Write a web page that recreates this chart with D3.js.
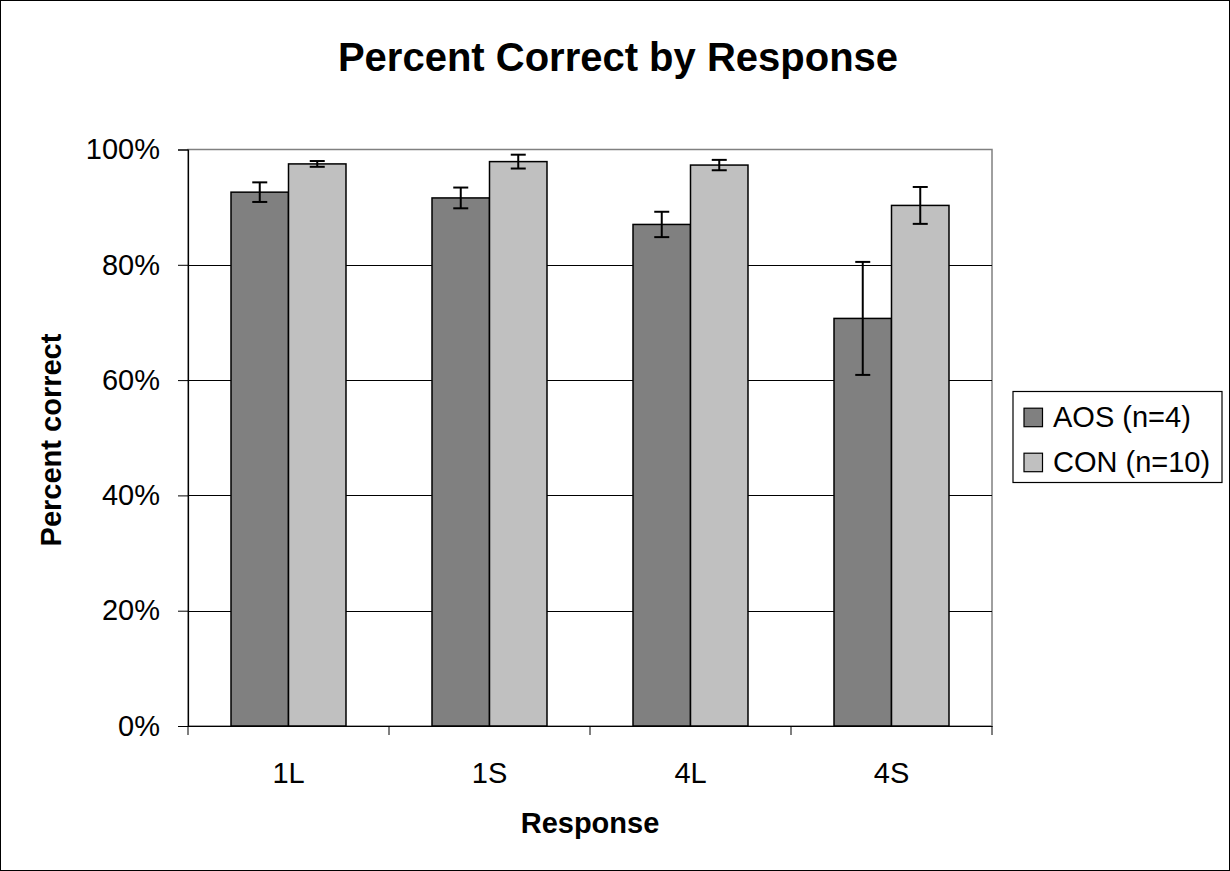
<!DOCTYPE html>
<html><head><meta charset="utf-8">
<script src="https://cdn.jsdelivr.net/npm/d3@7"></script>
<style>body{margin:0;background:#fff}svg{display:block;font-family:Arial,"Liberation Sans",sans-serif}</style>
</head><body>
<svg id="c" width="1230" height="871"></svg>
<script>
const categories = ["1L", "1S", "4L", "4S"];
const seriesNames = ["AOS (n=4)", "CON (n=10)"];
const aosValues = [0.926, 0.916, 0.870, 0.707];
const aosErrors = [0.017, 0.018, 0.022, 0.098];
const conValues = [0.975, 0.979, 0.973, 0.903];
const conErrors = [0.005, 0.012, 0.009, 0.032];
const yTicks = [0, 0.2, 0.4, 0.6, 0.8, 1.0];
const colors = ["#808080", "#c0c0c0"];

const FONT = "Arial, 'Liberation Sans', sans-serif";
const svg = d3.select("#c");
const L = 188, R = 992, T = 149.5, B = 726;

svg.append("rect").attr("x",0.5).attr("y",0.5).attr("width",1229).attr("height",870)
  .attr("fill","#fff").attr("stroke","#000").attr("stroke-width",1);

const x = d3.scaleBand().domain(categories).range([L, R]).paddingInner(0).paddingOuter(0);
const xs = d3.scaleBand().domain([0,1]).range([0, x.bandwidth()]).paddingInner(0).paddingOuter(0.748);
const y = d3.scaleLinear().domain([0,1]).range([B, T]);

// plot area border (gray)
svg.append("rect").attr("x",L).attr("y",T).attr("width",R-L).attr("height",B-T)
  .attr("fill","#fff").attr("stroke","#808080").attr("stroke-width",1.5);

// gridlines
svg.append("g").selectAll("line").data(yTicks.filter(d=>d>0 && d<1)).join("line")
  .attr("x1",L).attr("x2",R).attr("y1",d=>Math.round(y(d))+0.5).attr("y2",d=>Math.round(y(d))+0.5)
  .attr("stroke","#000").attr("stroke-width",1);

// bars
const data = [];
categories.forEach((c,i)=>{
  data.push({c, s:0, v:aosValues[i], e:aosErrors[i]});
  data.push({c, s:1, v:conValues[i], e:conErrors[i]});
});
const g = svg.append("g");
g.selectAll("rect").data(data).join("rect")
  .attr("x",d=>x(d.c)+xs(d.s)).attr("width",xs.bandwidth())
  .attr("y",d=>y(d.v)).attr("height",d=>B-y(d.v))
  .attr("fill",d=>colors[d.s]).attr("stroke","#000").attr("stroke-width",1.5);

// error bars
const eb = svg.append("g").attr("stroke","#000").attr("stroke-width",2);
data.forEach(d=>{
  const cx = x(d.c)+xs(d.s)+xs.bandwidth()/2;
  eb.append("line").attr("x1",cx).attr("x2",cx).attr("y1",y(d.v+d.e)).attr("y2",y(d.v-d.e));
  eb.append("line").attr("x1",cx-7.5).attr("x2",cx+7.5).attr("y1",y(d.v+d.e)).attr("y2",y(d.v+d.e));
  eb.append("line").attr("x1",cx-7.5).attr("x2",cx+7.5).attr("y1",y(d.v-d.e)).attr("y2",y(d.v-d.e));
});

// y axis
const yAxis = d3.axisLeft(y).tickValues(yTicks).tickFormat(d3.format(".0%")).tickSize(10).tickPadding(18);
const ya = svg.append("g").attr("transform",`translate(${L},0)`).call(yAxis);
ya.select(".domain").attr("stroke","#000").attr("stroke-width",1.2);
ya.selectAll(".tick line").attr("stroke","#000");
ya.selectAll("text").attr("font-size",29).attr("fill","#000").attr("font-family",FONT);

// x axis
const xAxis = d3.axisBottom(x).tickSize(0).tickPadding(36);
const xa = svg.append("g").attr("transform",`translate(0,${B})`).call(xAxis);
xa.select(".domain").attr("stroke","#000").attr("stroke-width",1.2);
xa.selectAll("text").attr("font-size",29).attr("fill","#000").attr("font-family",FONT);
// category boundary ticks
const bounds = categories.map(c=>x(c)).concat([R]);
svg.append("g").selectAll("line").data(bounds).join("line")
  .attr("x1",d=>d).attr("x2",d=>d).attr("y1",B).attr("y2",B+9).attr("stroke","#000");

// title
svg.append("text").attr("x",618).attr("y",71).attr("text-anchor","middle")
  .attr("font-size",40).attr("font-weight","bold").text("Percent Correct by Response");
svg.append("text").attr("x",590).attr("y",833).attr("text-anchor","middle")
  .attr("font-size",29).attr("font-weight","bold").text("Response");
svg.append("text").attr("transform","translate(61,440) rotate(-90)").attr("text-anchor","middle")
  .attr("font-size",29).attr("font-weight","bold").text("Percent correct");

// legend
const lg = svg.append("g");
lg.append("rect").attr("x",1013).attr("y",391.5).attr("width",209).attr("height",91)
  .attr("fill","#fff").attr("stroke","#000").attr("stroke-width",1.2);
seriesNames.forEach((n,i)=>{
  const base = 426.7 + i*45;
  lg.append("rect").attr("x",1024).attr("y",base-18.5).attr("width",18.5).attr("height",18.5)
    .attr("fill",colors[i]).attr("stroke","#000").attr("stroke-width",1.2);
  lg.append("text").attr("x",1053).attr("y",base).attr("font-size",29).text(n);
});
</script>
</body></html>
